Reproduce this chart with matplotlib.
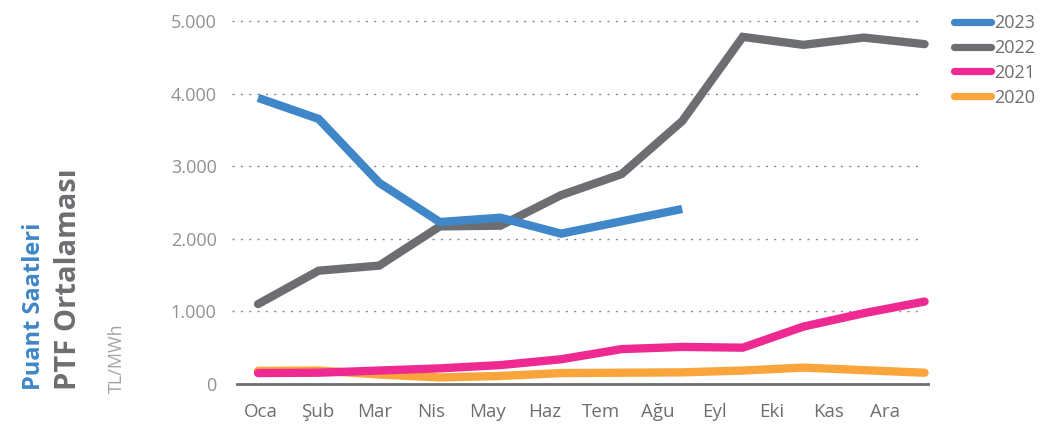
import numpy as np
import matplotlib.pyplot as plt

aylar = ['Oca', 'Şub', 'Mar', 'Nis', 'May', 'Haz', 'Tem', 'Ağu', 'Eyl', 'Eki', 'Kas', 'Ara']

# PTF ortalamaları (TL/MWh), puant saatleri
ptf_2023 = [3940, 3650, 2770, 2230, 2290, 2070, 2240, 2410]
ptf_2022 = [1100, 1560, 1630, 2170, 2180, 2600, 2890, 3620, 4780, 4670, 4770, 4680]
ptf_2021 = [150, 155, 185, 215, 260, 340, 480, 510, 500, 790, 975, 1135]
ptf_2020 = [180, 185, 130, 90, 110, 150, 155, 160, 185, 225, 190, 155]

y_ticks = [0, 1000, 2000, 3000, 4000, 5000]
y_labels = ['0', '1.000', '2.000', '3.000', '4.000', '5.000']

renk_mavi = '#3f87c8'
renk_gri = '#6d6e71'
renk_pembe = '#ee2a92'
renk_turuncu = '#f9a53b'

plt.rcParams['font.family'] = ['Open Sans', 'DejaVu Sans']

fig = plt.figure(figsize=(10.44, 4.24), dpi=100)
ax = fig.add_axes([232 / 1044, 38 / 424, 698 / 1044, 376 / 424])

lw = 6
ax.plot(range(len(ptf_2020)), ptf_2020, color=renk_turuncu, lw=lw, label='2020',
        solid_capstyle='round', solid_joinstyle='miter', zorder=3)
ax.plot(range(len(ptf_2021)), ptf_2021, color=renk_pembe, lw=lw, label='2021',
        solid_capstyle='round', solid_joinstyle='miter', zorder=4)
ax.plot(range(len(ptf_2022)), ptf_2022, color=renk_gri, lw=lw, label='2022',
        solid_capstyle='round', solid_joinstyle='miter', zorder=5)
ax.plot(range(len(ptf_2023)), ptf_2023, color=renk_mavi, lw=lw, label='2023',
        solid_capstyle='butt', solid_joinstyle='miter', zorder=6)

ax.set_xlim(-0.43, 11.09)
ax.set_ylim(-28, 5150)

# noktalı yatay kılavuz çizgileri ve taban çizgisi
for y in y_ticks[1:]:
    ax.axhline(y, xmin=0, xmax=0.99, color='#8a8c8f', lw=1,
               linestyle=(0, (1.5, 4.5)), zorder=1)
ax.axhline(0, xmin=0.007, xmax=1, color=renk_gri, lw=2, zorder=2)

for s in ax.spines.values():
    s.set_visible(False)

ax.set_yticks(y_ticks)
ax.set_yticklabels(y_labels, fontsize=13, color='#8f9295')
ax.tick_params(axis='y', length=0, pad=11)

# ay etiketleri biraz sola kaymış konumlarda
ax.set_xticks(0.05 + 0.936 * np.arange(len(aylar)))
ax.set_xticklabels(aylar, fontsize=13.5, color=renk_gri)
ax.tick_params(axis='x', length=0, pad=12)

handles, labels = ax.get_legend_handles_labels()
leg = fig.legend(handles[::-1], labels[::-1], loc='upper left',
                 bbox_to_anchor=(954 / 1044, 1 - 14 / 424), frameon=False,
                 fontsize=13, labelcolor=renk_gri, handlelength=2.05,
                 handletextpad=0.15, labelspacing=0.38, borderpad=0, borderaxespad=0)
for line in leg.get_lines():
    line.set_solid_capstyle('round')
    line.set_linewidth(5.2)

# sol taraftaki dikey başlıklar
fig.text(34 / 1044, 34 / 424, 'Puant Saatleri', rotation=90, ha='center', va='bottom',
         fontsize=17, fontweight='bold', color=renk_mavi)
fig.text(69 / 1044, 34 / 424, 'PTF Ortalaması', rotation=90, ha='center', va='bottom',
         fontsize=21, fontweight='bold', color=renk_gri)
fig.text(117 / 1044, 31 / 424, 'TL/MWh', rotation=90, ha='center', va='bottom',
         fontsize=13, color='#a3a5a8')

fig.savefig('out.png', dpi=100)
